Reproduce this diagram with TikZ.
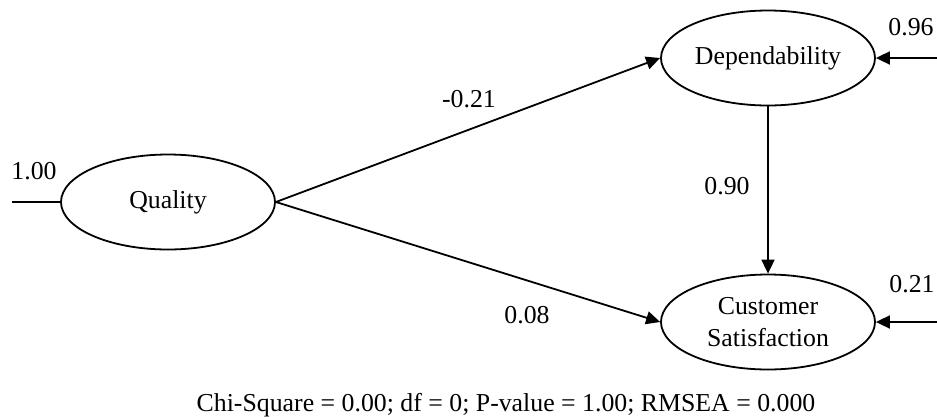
\documentclass[tikz,border=0pt]{standalone}
\usepackage{fontspec}
\setmainfont{Liberation Serif}
\usetikzlibrary{arrows.meta,shapes.geometric}
\tikzset{
  latent/.style={draw, ellipse, line width=1.8pt, inner sep=0pt,
    minimum width=214pt, minimum height=95pt, align=center,
    font=\fontsize{25.8}{32}\selectfont},
  lbl/.style={inner sep=0pt, font=\fontsize{25.8}{32}\selectfont},
  path/.style={line width=1.8pt, -{Triangle[length=14pt,width=13pt]}},
  stub/.style={line width=1.8pt}
}
\begin{document}
\begin{tikzpicture}[x=1pt,y=-1pt]
\useasboundingbox (0,0) rectangle (937,416);
\node[latent] (Q) at (168,202) {Quality};
\node[latent] (D) at (768,58) {Dependability};
\node[latent] (C) at (768,322) {Customer\\Satisfaction};
\coordinate (eQ) at (12,202);
\coordinate (eD) at (937,58);
\coordinate (eC) at (937,322);
\draw[stub] (eQ) -- (Q.west);
\draw[path] (eD) -- (D.east);
\draw[path] (eC) -- (C.east);
\draw[path] (Q.east) -- (D.west);
\draw[path] (Q.east) -- (C.west);
\draw[path] (D.south) -- (C.north);
\node[lbl] (l1) at (34,171) {1.00};
\node[lbl] (l2) at (911,27) {0.96};
\node[lbl] (l3) at (912,284) {0.21};
\node[lbl] (l4) at (469,99) {-0.21};
\node[lbl] (l5) at (727,186) {0.90};
\node[lbl] (l6) at (527,315) {0.08};
\node[lbl, anchor=base] (cap) at (506,411) {Chi-Square = 0.00; df = 0; P-value = 1.00; RMSEA = 0.000};
\end{tikzpicture}
\end{document}
